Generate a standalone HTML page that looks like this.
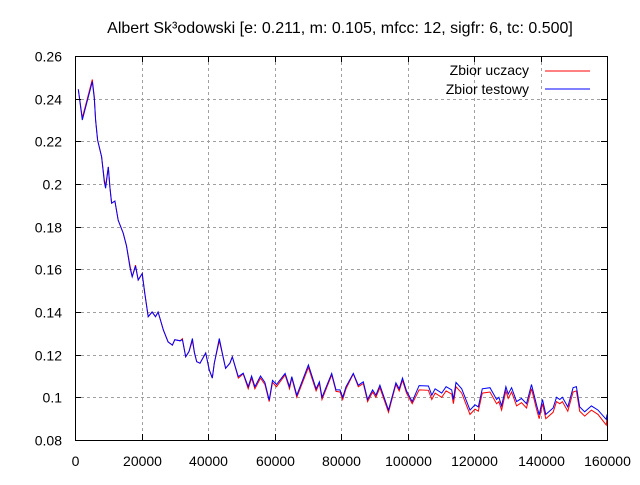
<!DOCTYPE html>
<html><head><meta charset="utf-8"><style>
body{margin:0;background:#fff}
svg text{font-family:"Liberation Sans",sans-serif;fill:#000}
</style></head><body>
<svg id="chart" width="640" height="480" xmlns="http://www.w3.org/2000/svg">
<rect width="640" height="480" fill="#fff"/>
<text x="340" y="33" font-size="16" text-anchor="middle">Albert Sk³odowski [e: 0.211, m: 0.105, mfcc: 12, sigfr: 6, tc: 0.500]</text>
<g id="grid"></g><g id="series"></g><g id="axes"></g>
<g>
<text x="529" y="75" font-size="14" text-anchor="end">Zbior uczacy</text>
<line x1="545" y1="71" x2="590" y2="71" stroke="#f00" stroke-width="1"/>
<text x="529" y="94" font-size="14" text-anchor="end">Zbior testowy</text>
<line x1="545" y1="89" x2="590" y2="89" stroke="#00f" stroke-width="1"/>
</g>
</svg>
<script>
const xs=[1000,2200,5200,5800,6200,6800,8000,8800,9200,10000,10500,11000,12000,13000,14500,15500,16500,17200,18200,19000,20200,21000,22000,23200,24200,25000,26600,28000,29300,30000,31600,32300,33300,34300,35300,35900,36600,37600,39300,40400,41300,41900,43400,44600,45300,46600,47300,49100,50600,52100,53100,54100,55800,57100,58400,59400,60600,63200,64500,65200,66700,70200,72500,73500,74300,77200,78500,79700,80500,81500,83700,85200,86700,88000,89500,90500,91700,94300,96500,97500,98500,99700,101400,103500,106300,107300,108300,110300,111600,113300,113800,114600,116300,118800,120300,121300,122500,124800,126800,127500,128300,129600,130300,131300,132800,134300,135800,137300,138800,139600,140600,141600,143800,144800,145800,146600,148200,149800,150800,151800,153300,155300,157300,159800,160000];
const testVals=[0.2444,0.230,0.248,0.240,0.230,0.2206,0.2128,0.201,0.198,0.208,0.1985,0.191,0.192,0.183,0.177,0.171,0.161,0.1565,0.1615,0.155,0.158,0.1487,0.1378,0.140,0.1378,0.140,0.1315,0.126,0.1245,0.127,0.1265,0.127,0.119,0.1215,0.1276,0.121,0.1167,0.116,0.1208,0.1128,0.109,0.116,0.1276,0.1185,0.1136,0.116,0.119,0.1097,0.1113,0.105,0.110,0.105,0.110,0.107,0.0987,0.108,0.106,0.1112,0.105,0.1097,0.101,0.1152,0.104,0.1073,0.100,0.1112,0.1035,0.1035,0.100,0.105,0.1112,0.1057,0.1073,0.099,0.1035,0.101,0.1057,0.094,0.1068,0.104,0.109,0.103,0.098,0.1055,0.1053,0.101,0.104,0.102,0.105,0.1035,0.099,0.107,0.104,0.094,0.0965,0.0955,0.104,0.1045,0.099,0.100,0.096,0.105,0.1015,0.1045,0.098,0.0995,0.097,0.106,0.0965,0.0918,0.099,0.092,0.095,0.100,0.099,0.100,0.0955,0.1045,0.105,0.0955,0.0932,0.096,0.094,0.0896,0.092];
const trainVals=[0.2444,0.231,0.249,0.241,0.230,0.2206,0.2128,0.202,0.199,0.208,0.1985,0.191,0.192,0.183,0.177,0.171,0.162,0.1565,0.1620,0.155,0.158,0.1487,0.1378,0.140,0.1378,0.140,0.1315,0.126,0.1245,0.127,0.1265,0.1275,0.119,0.1215,0.1265,0.121,0.1167,0.116,0.1208,0.1128,0.109,0.116,0.1265,0.1185,0.1136,0.116,0.119,0.1090,0.1110,0.104,0.109,0.104,0.109,0.106,0.0980,0.107,0.105,0.1105,0.104,0.1090,0.100,0.1140,0.103,0.1065,0.099,0.1105,0.1028,0.1025,0.099,0.104,0.1110,0.1050,0.1065,0.098,0.1025,0.100,0.1045,0.093,0.1060,0.103,0.108,0.102,0.097,0.1035,0.1033,0.099,0.102,0.100,0.103,0.1015,0.097,0.105,0.102,0.092,0.0945,0.0935,0.102,0.1025,0.097,0.098,0.094,0.103,0.0995,0.1025,0.096,0.0975,0.095,0.104,0.0945,0.0900,0.097,0.090,0.093,0.098,0.097,0.098,0.0935,0.1025,0.103,0.0935,0.0912,0.094,0.092,0.0870,0.090];
const xTicks=[0,20000,40000,60000,80000,100000,120000,140000,160000];
const yTicks=[0.08,0.1,0.12,0.14,0.16,0.18,0.2,0.22,0.24,0.26];
const yTickLabels=["0.08","0.1","0.12","0.14","0.16","0.18","0.2","0.22","0.24","0.26"];

const L=75,R=607,T=56,B=440;
const sx=v=>L+(v-0)/(160000-0)*(R-L);
const sy=v=>B-(v-0.08)/(0.26-0.08)*(B-T);
const NS='http://www.w3.org/2000/svg';
function mk(tag,attrs,parent){const e=document.createElementNS(NS,tag);for(const k in attrs)e.setAttribute(k,attrs[k]);parent.appendChild(e);return e;}
const grid=document.getElementById('grid'),axes=document.getElementById('axes'),ser=document.getElementById('series');
xTicks.forEach((t,i)=>{
  const x=Math.round(sx(t))+0.5;
  if(i>0&&i<xTicks.length-1){const g=mk('line',{x1:x,y1:T,x2:x,y2:B,stroke:'#a0a0a0','stroke-dasharray':'3,3'},grid);
  
  }
  mk('line',{x1:x,y1:B,x2:x,y2:B-6,stroke:'#000'},axes);
  mk('line',{x1:x,y1:T,x2:x,y2:T+6,stroke:'#000'},axes);
  const tx=mk('text',{x:x,y:466,'font-size':'14','text-anchor':'middle'},axes);
  
  
  tx.textContent=String(t);
});
yTicks.forEach((t,i)=>{
  const y=Math.round(sy(t))+0.5;
  if(i>0&&i<yTicks.length-1){const g=mk('line',{x1:L,y1:y,x2:R,y2:y,stroke:'#a0a0a0','stroke-dasharray':'3,3'},grid);
  
  }
  mk('line',{x1:L,y1:y,x2:L+6,y2:y,stroke:'#000'},axes);
  mk('line',{x1:R,y1:y,x2:R-6,y2:y,stroke:'#000'},axes);
  const tx=mk('text',{x:62,y:y+5,'font-size':'14','text-anchor':'end'},axes);
  
  
  tx.textContent=yTickLabels[i];
});
const frame=mk('rect',{x:L+0.5,y:T+0.5,width:R-L,height:B-T,fill:'none',stroke:'#000'},axes);


function line(vals,color,name){
  const d=vals.map((v,i)=>(i?'L':'M')+sx(xs[i]).toFixed(1)+','+sy(v).toFixed(1)).join('');
  const p=mk('path',{d:d,fill:'none',stroke:color,'stroke-width':'1'},ser);
  
  
}
line(trainVals,'#f00','train-series-line');
line(testVals,'#00f','test-series-line');
</script>
</body></html>
